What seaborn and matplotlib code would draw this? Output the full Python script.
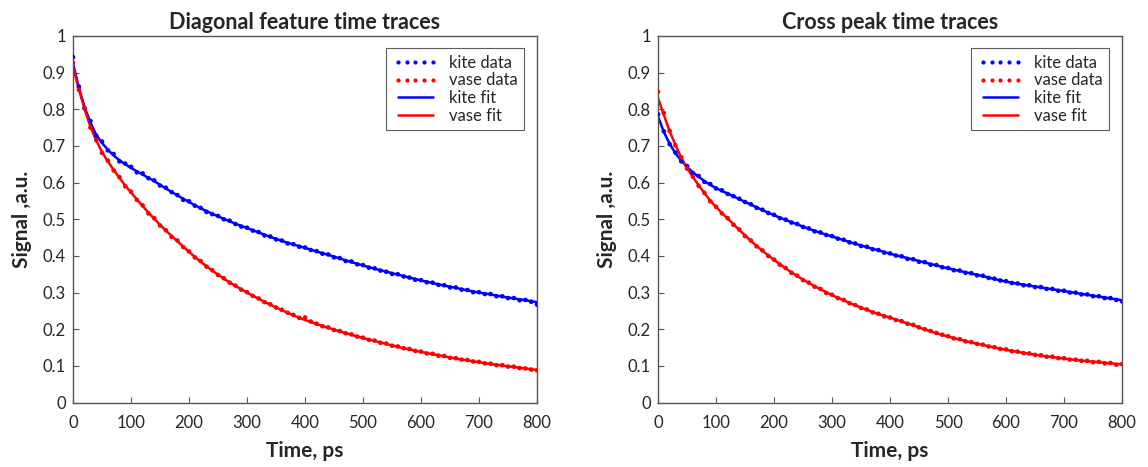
import numpy as np
import matplotlib
matplotlib.use("Agg")
import matplotlib.pyplot as plt
import seaborn as sns
from matplotlib.lines import Line2D
from matplotlib.ticker import FuncFormatter

# time axis of the measured traces (ps)
t_data = list(range(0, 801, 10))
# time nodes of the fitted curves (ps)
t_fit = list(range(0, 101, 10)) + list(range(120, 801, 20))

# ---- Diagonal feature ----
diag_kite_data = [0.942, 0.862, 0.803, 0.768, 0.728, 0.712, 0.688, 0.678, 0.658, 0.652,
                  0.643, 0.628, 0.625, 0.612, 0.606, 0.592, 0.586, 0.574, 0.566, 0.553,
                  0.549, 0.537, 0.531, 0.520, 0.514, 0.509, 0.500, 0.496, 0.487, 0.480,
                  0.477, 0.469, 0.465, 0.456, 0.453, 0.445, 0.442, 0.434, 0.432, 0.425,
                  0.423, 0.416, 0.413, 0.406, 0.404, 0.396, 0.394, 0.386, 0.385, 0.377,
                  0.375, 0.368, 0.366, 0.360, 0.357, 0.351, 0.350, 0.344, 0.341, 0.335,
                  0.334, 0.328, 0.327, 0.321, 0.320, 0.314, 0.314, 0.308, 0.307, 0.301,
                  0.301, 0.296, 0.296, 0.290, 0.290, 0.285, 0.285, 0.279, 0.280, 0.275,
                  0.267]
diag_vase_data = [0.927, 0.853, 0.802, 0.750, 0.716, 0.681, 0.660, 0.633, 0.615, 0.590,
                  0.575, 0.553, 0.538, 0.516, 0.503, 0.483, 0.470, 0.452, 0.442, 0.424,
                  0.412, 0.396, 0.386, 0.371, 0.361, 0.348, 0.339, 0.327, 0.319, 0.308,
                  0.301, 0.291, 0.284, 0.274, 0.268, 0.259, 0.253, 0.245, 0.239, 0.231,
                  0.232, 0.221, 0.215, 0.208, 0.205, 0.198, 0.195, 0.189, 0.186, 0.180,
                  0.177, 0.171, 0.169, 0.163, 0.161, 0.155, 0.153, 0.148, 0.146, 0.141,
                  0.139, 0.134, 0.133, 0.128, 0.127, 0.122, 0.121, 0.117, 0.116, 0.112,
                  0.111, 0.107, 0.106, 0.102, 0.102, 0.098, 0.098, 0.094, 0.093, 0.090,
                  0.088]
diag_kite_fit = [0.925, 0.860, 0.805, 0.764, 0.730, 0.708, 0.690, 0.674, 0.661, 0.650,
                 0.640, 0.622, 0.604, 0.584, 0.565, 0.547, 0.530, 0.515, 0.501, 0.488,
                 0.476, 0.464, 0.452, 0.441, 0.431, 0.422, 0.412, 0.403, 0.393, 0.383,
                 0.374, 0.365, 0.357, 0.349, 0.341, 0.333, 0.326, 0.319, 0.313, 0.306,
                 0.300, 0.295, 0.289, 0.284, 0.279, 0.274]
diag_vase_fit = [0.915, 0.855, 0.800, 0.752, 0.715, 0.683, 0.658, 0.635, 0.613, 0.592,
                 0.573, 0.536, 0.501, 0.469, 0.440, 0.411, 0.384, 0.360, 0.338, 0.318,
                 0.300, 0.283, 0.267, 0.252, 0.238, 0.225, 0.214, 0.204, 0.194, 0.185,
                 0.176, 0.168, 0.160, 0.152, 0.145, 0.138, 0.132, 0.126, 0.120, 0.115,
                 0.110, 0.105, 0.101, 0.097, 0.093, 0.089]

# ---- Cross peak ----
cross_kite_data = [0.786, 0.740, 0.705, 0.682, 0.658, 0.645, 0.626, 0.618, 0.602, 0.596,
                   0.584, 0.579, 0.569, 0.563, 0.556, 0.547, 0.541, 0.531, 0.526, 0.517,
                   0.512, 0.503, 0.499, 0.491, 0.487, 0.479, 0.475, 0.467, 0.464, 0.457,
                   0.454, 0.447, 0.444, 0.437, 0.434, 0.427, 0.425, 0.418, 0.416, 0.409,
                   0.407, 0.401, 0.399, 0.392, 0.391, 0.384, 0.383, 0.376, 0.375, 0.369,
                   0.367, 0.361, 0.360, 0.354, 0.353, 0.347, 0.346, 0.340, 0.338, 0.333,
                   0.331, 0.326, 0.325, 0.320, 0.320, 0.315, 0.315, 0.310, 0.310, 0.305,
                   0.305, 0.300, 0.300, 0.295, 0.295, 0.290, 0.290, 0.285, 0.285, 0.280,
                   0.276]
cross_vase_data = [0.848, 0.790, 0.741, 0.702, 0.669, 0.638, 0.616, 0.591, 0.572, 0.549,
                   0.534, 0.516, 0.503, 0.485, 0.472, 0.454, 0.442, 0.426, 0.415, 0.400,
                   0.390, 0.376, 0.367, 0.354, 0.346, 0.334, 0.327, 0.316, 0.310, 0.299,
                   0.294, 0.285, 0.280, 0.271, 0.266, 0.258, 0.254, 0.246, 0.242, 0.235,
                   0.232, 0.225, 0.222, 0.215, 0.212, 0.205, 0.200, 0.195, 0.190, 0.185,
                   0.181, 0.175, 0.173, 0.167, 0.165, 0.160, 0.158, 0.153, 0.151, 0.146,
                   0.145, 0.140, 0.139, 0.135, 0.134, 0.130, 0.129, 0.125, 0.125, 0.121,
                   0.121, 0.117, 0.117, 0.114, 0.114, 0.110, 0.111, 0.107, 0.108, 0.103,
                   0.105]
cross_kite_fit = [0.780, 0.738, 0.706, 0.680, 0.660, 0.643, 0.628, 0.616, 0.604, 0.594,
                  0.585, 0.570, 0.555, 0.540, 0.525, 0.511, 0.498, 0.486, 0.474, 0.463,
                  0.453, 0.443, 0.433, 0.424, 0.415, 0.406, 0.398, 0.390, 0.382, 0.374,
                  0.366, 0.359, 0.352, 0.345, 0.337, 0.330, 0.324, 0.319, 0.314, 0.309,
                  0.304, 0.299, 0.294, 0.289, 0.284, 0.279]
cross_vase_fit = [0.830, 0.785, 0.740, 0.703, 0.668, 0.640, 0.615, 0.593, 0.571, 0.551,
                  0.533, 0.502, 0.471, 0.441, 0.414, 0.389, 0.366, 0.345, 0.326, 0.309,
                  0.293, 0.279, 0.265, 0.253, 0.241, 0.232, 0.221, 0.211, 0.199, 0.189,
                  0.180, 0.172, 0.164, 0.157, 0.150, 0.144, 0.138, 0.133, 0.128, 0.124,
                  0.120, 0.116, 0.113, 0.110, 0.107, 0.104]

titles = ['Diagonal feature time traces', 'Cross peak time traces']
legend_labels = ['kite data', 'vase data', 'kite fit', 'vase fit']

sns.set_style('white')
plt.rcParams['font.family'] = ['Lato', 'DejaVu Sans']

fig = plt.figure(figsize=(11.48, 4.67), dpi=100)
ax_left = fig.add_axes([0.0636, 0.138, 0.4042, 0.785])
ax_right = fig.add_axes([0.5732, 0.138, 0.4042, 0.785])

panels = [
    (ax_left, diag_kite_data, diag_vase_data, diag_kite_fit, diag_vase_fit),
    (ax_right, cross_kite_data, cross_vase_data, cross_kite_fit, cross_vase_fit),
]

for i, (ax, kd, vd, kf, vf) in enumerate(panels):
    sns.lineplot(x=t_fit, y=kf, color='#0000ff', linewidth=1.8, ax=ax, zorder=2)
    sns.lineplot(x=t_fit, y=vf, color='#ff0000', linewidth=1.8, ax=ax, zorder=2)
    sns.scatterplot(x=t_data, y=kd, color='#0000ff', s=11, edgecolor='none', ax=ax, zorder=3)
    sns.scatterplot(x=t_data, y=vd, color='#ff0000', s=11, edgecolor='none', ax=ax, zorder=3)

    ax.set_xlim(0, 800)
    ax.set_ylim(0, 1)
    ax.set_xticks(range(0, 801, 100))
    ax.set_yticks(np.arange(0, 1.01, 0.1))
    ax.yaxis.set_major_formatter(FuncFormatter(lambda v, p: '%g' % round(v, 1)))
    ax.tick_params(axis='x', pad=9)
    ax.tick_params(axis='y', pad=5)
    ax.tick_params(direction='in', length=4, width=0.8, color='#555555',
                   labelsize=12, bottom=True, left=True, top=False, right=False)
    for sp in ax.spines.values():
        sp.set_color('#555555')
        sp.set_linewidth(1.0)

    ax.set_title(titles[i], fontsize=15.5, fontweight='bold', pad=5)
    ax.set_xlabel('Time, ps', fontsize=15, fontweight='bold', labelpad=7)
    ax.set_ylabel('Signal ,a.u.', fontsize=15, fontweight='bold', labelpad=8)

    handles = [
        Line2D([], [], color='#0000ff', linestyle='none', marker='.', markersize=4),
        Line2D([], [], color='#ff0000', linestyle='none', marker='.', markersize=4),
        Line2D([], [], color='#0000ff', linewidth=1.8),
        Line2D([], [], color='#ff0000', linewidth=1.8),
    ]
    leg = ax.legend(handles, legend_labels, loc='upper right', numpoints=5,
                    fontsize=12, frameon=True, fancybox=False, handlelength=2.7,
                    handletextpad=0.65, labelspacing=0.1, borderpad=0.4,
                    borderaxespad=0, bbox_to_anchor=(0.972, 0.967))
    leg.get_frame().set_edgecolor('#333333')
    leg.get_frame().set_linewidth(0.8)

fig.savefig('out.png', dpi=100)
